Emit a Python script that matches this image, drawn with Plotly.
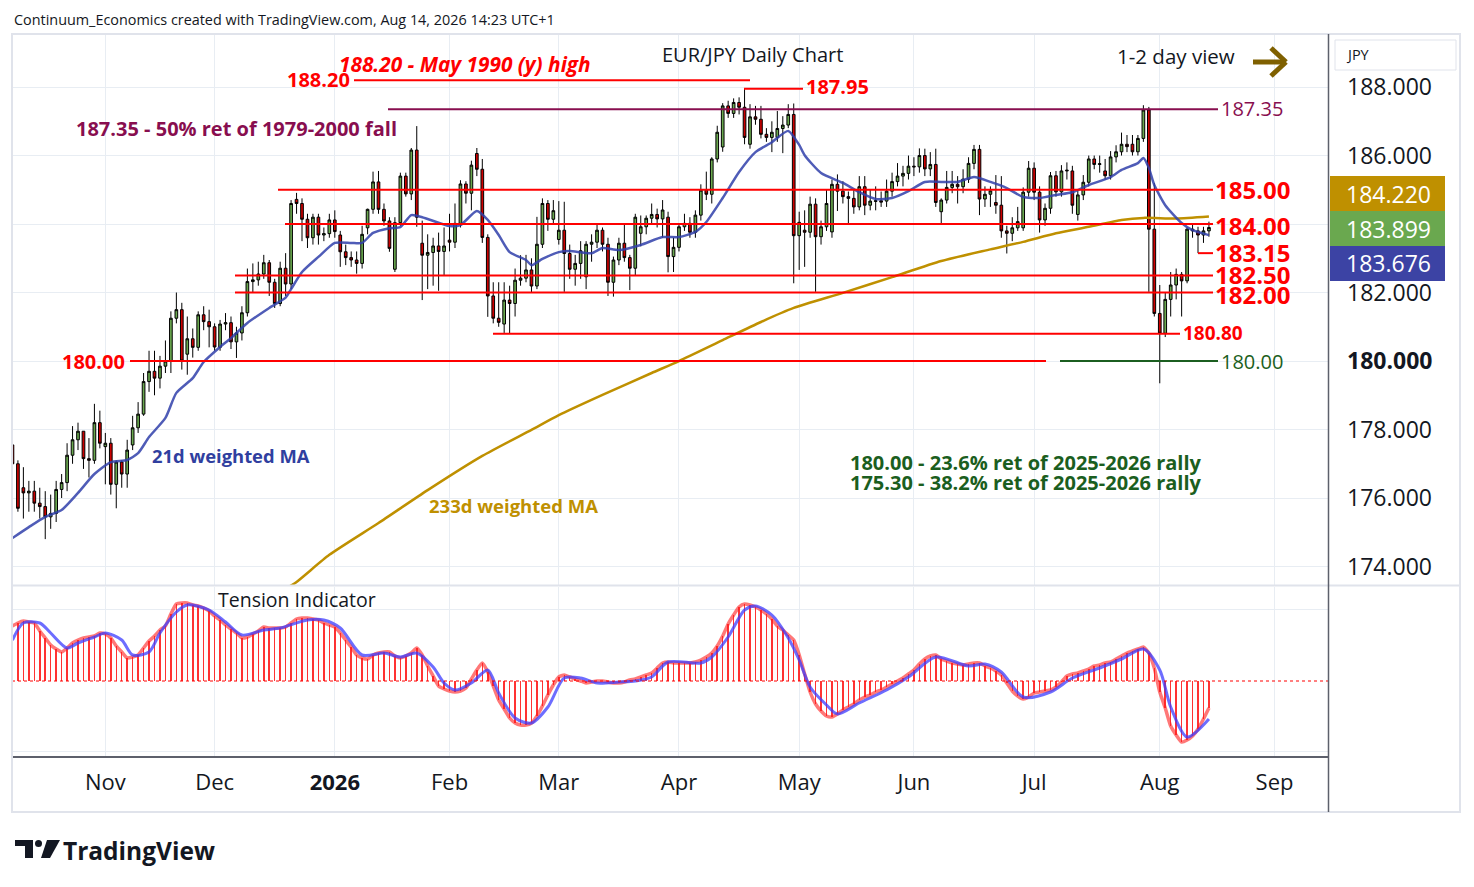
import pandas as pd
import plotly.graph_objects as go

# daily bars, weekdays only (no bar on Dec 25 / Jan 1)
dates = pd.bdate_range("2025-10-09", "2026-08-14", freq="C",
                       holidays=["2025-12-25", "2026-01-01"])

opens = [
    # Oct
    177.55, 177.00, 176.30, 176.15, 176.20, 175.85, 175.75, 175.45, 175.55, 176.25,
    176.45, 177.25, 177.70, 177.95, 177.15, 177.10, 178.20,
    # Nov
    177.50, 177.60, 176.40, 177.05, 176.70, 177.55, 178.05, 178.45, 179.40, 179.70,
    179.50, 179.85, 180.00, 181.25, 181.50, 180.20, 180.65, 180.40, 181.35, 181.15,
    # Dec
    181.00, 180.40, 181.08, 181.12, 180.56, 180.82, 181.41, 182.32, 182.37, 182.54,
    182.87, 182.30, 181.68, 182.71, 182.25, 184.72, 184.60, 184.14, 183.60, 184.20,
    183.68, 183.72,
    # Jan
    184.12, 183.68, 183.19, 183.02, 182.95, 182.85, 183.89, 184.43, 185.23, 184.43,
    184.09, 182.68, 184.04, 185.40, 184.88, 186.16, 183.44, 183.09, 183.17, 183.36,
    183.20,
    # Feb
    183.53, 183.47, 184.02, 185.17, 184.90, 186.06, 185.60, 183.61, 181.90, 181.25,
    181.08, 181.78, 181.68, 182.36, 182.42, 182.66, 182.19, 183.41, 184.60, 184.14,
    # Mar
    183.55, 183.82, 183.14, 182.68, 182.85, 182.46, 183.41, 183.47, 183.82, 183.41,
    182.30, 182.95, 183.44, 183.02, 182.71, 183.73, 183.92, 184.17, 184.28, 184.15,
    184.20, 183.05,
    # Apr
    183.32, 183.92, 184.02, 183.76, 184.26, 184.99, 184.87, 185.90, 186.25, 187.45,
    187.23, 187.55, 187.41, 186.33, 187.13, 187.06, 186.62, 186.53, 186.53, 186.79,
    186.89, 187.20,
    # May
    183.66, 183.82, 183.76, 184.58, 183.63, 183.92, 183.77, 185.16, 184.96, 184.80,
    184.75, 184.50, 185.09, 184.55, 184.66, 184.68, 184.67, 184.96, 185.24, 185.40,
    185.48,
    # Jun
    185.69, 185.67, 186.00, 185.61, 185.74, 184.36, 184.70, 185.07, 185.16, 185.09,
    185.31, 185.77, 186.18, 184.73, 184.87, 184.63, 184.55, 183.80, 183.73, 183.89,
    183.89, 184.93,
    # Jul
    185.63, 184.93, 184.12, 184.46, 185.41, 184.94, 185.55, 185.55, 184.28, 184.85,
    185.22, 185.90, 185.74, 185.55, 185.41, 185.96, 186.11, 186.33, 186.33, 186.11,
    186.50, 187.33, 183.85,
    # Aug
    181.39, 180.81, 181.80, 182.22, 182.53, 182.34, 183.85, 183.80, 183.68, 183.80,
]
highs = [
    177.70, 177.10, 176.90, 176.50, 176.50, 176.30, 176.20, 176.10, 176.50, 176.70,
    177.60, 178.10, 178.20, 177.95, 177.75, 178.75, 178.55,
    177.90, 177.75, 177.10, 177.10, 177.70, 178.40, 178.80, 179.65, 180.30, 180.30,
    180.15, 180.60, 181.45, 182.00, 181.70, 181.30, 180.95, 181.45, 181.60, 181.50,
    181.10, 181.20, 181.40, 181.30, 181.00, 181.60, 182.70, 182.85, 182.90, 183.10,
    182.95, 182.40, 182.90, 183.15, 184.70, 184.91, 184.75, 184.30, 184.30, 184.30,
    183.90, 184.30,
    184.40, 183.80, 183.40, 183.20, 183.20, 183.95, 184.45, 185.53, 185.55, 184.60,
    184.20, 184.20, 185.50, 185.50, 186.22, 186.86, 184.10, 183.70, 183.60, 183.75,
    183.90,
    184.30, 184.60, 185.28, 185.25, 185.85, 186.22, 185.90, 183.70, 182.30, 182.30,
    182.30, 182.20, 182.70, 183.09, 183.10, 183.00, 184.21, 184.75, 184.70, 184.70,
    184.67, 184.65, 183.40, 183.10, 183.50, 183.50, 183.70, 184.00, 183.90, 183.60,
    183.05, 183.60, 184.00, 183.10, 184.30, 184.25, 184.25, 184.60, 184.45, 184.70,
    184.36, 183.60,
    184.00, 184.30, 184.20, 184.40, 185.16, 185.53, 185.95, 186.87, 187.53, 187.60,
    187.67, 187.70, 187.95, 187.50, 187.45, 187.45, 186.80, 187.00, 187.30, 187.15,
    187.50, 187.52,
    184.36, 184.40, 184.80, 184.75, 184.10, 185.00, 185.30, 185.45, 185.25, 184.95,
    185.00, 185.40, 185.40, 185.00, 185.10, 184.95, 185.30, 185.50, 185.78, 185.70,
    186.00,
    185.95, 186.21, 186.20, 186.10, 186.20, 184.75, 185.55, 185.55, 185.40, 185.60,
    185.95, 186.31, 186.31, 185.10, 185.10, 185.43, 185.40, 183.95, 184.20, 184.50,
    185.07, 185.84,
    185.80, 185.10, 184.60, 185.52, 185.55, 185.72, 185.80, 185.70, 185.00, 185.43,
    186.00, 186.00, 186.00, 185.90, 186.13, 186.30, 186.67, 186.60, 186.60, 186.60,
    187.47, 187.42, 185.20,
    182.22, 182.00, 182.60, 182.70, 182.60, 183.90, 184.00, 183.92, 183.92, 184.07,
]
lows = [
    176.90, 175.60, 175.40, 175.60, 175.60, 175.40, 174.80, 175.10, 175.30, 176.00,
    176.20, 177.00, 177.40, 176.85, 176.60, 177.00, 177.45,
    176.40, 176.10, 175.70, 176.30, 176.30, 177.40, 177.90, 178.40, 179.10, 179.00,
    179.20, 179.65, 179.65, 181.10, 179.75, 179.60, 180.10, 180.30, 180.90, 180.40,
    180.30, 180.30, 180.90, 180.35, 180.09, 180.60, 181.30, 182.00, 182.20, 182.40,
    181.90, 181.55, 181.60, 181.90, 182.10, 184.30, 183.50, 183.30, 183.40, 183.40,
    183.50, 183.60,
    183.60, 182.75, 182.80, 182.75, 182.55, 182.70, 183.70, 184.30, 184.30, 183.95,
    183.19, 182.60, 183.95, 184.80, 184.70, 183.92, 181.78, 182.10, 182.20, 182.05,
    182.50,
    183.20, 183.30, 183.90, 184.60, 184.40, 185.40, 183.45, 181.29, 181.10, 181.00,
    180.82, 180.80, 181.30, 182.20, 182.30, 182.00, 182.10, 183.30, 183.80, 184.00,
    183.40, 182.02, 182.40, 182.20, 182.40, 182.10, 182.90, 183.30, 183.20, 181.90,
    181.88, 182.80, 182.90, 182.07, 182.50, 183.35, 183.70, 184.00, 183.90, 183.60,
    182.59, 182.60,
    183.20, 183.80, 183.60, 183.60, 184.10, 184.70, 184.60, 185.80, 186.11, 187.10,
    187.10, 187.20, 186.33, 186.20, 186.90, 186.50, 186.40, 186.10, 186.40, 186.07,
    186.80, 182.27,
    182.66, 182.75, 183.60, 182.02, 183.40, 183.80, 183.60, 184.38, 184.60, 184.02,
    184.30, 184.40, 184.26, 184.40, 184.40, 184.50, 184.50, 184.80, 185.10, 185.10,
    185.30,
    185.40, 185.50, 185.40, 185.40, 184.50, 183.99, 184.60, 184.90, 184.60, 184.90,
    185.20, 185.60, 184.26, 184.50, 184.50, 184.30, 183.60, 183.14, 183.50, 183.80,
    183.80, 184.80,
    184.70, 183.75, 183.95, 184.30, 184.80, 184.80, 185.30, 184.30, 184.10, 184.70,
    185.10, 185.60, 185.50, 185.30, 185.30, 185.80, 186.00, 186.10, 186.00, 186.00,
    186.40, 182.02, 181.30,
    179.35, 180.70, 181.30, 181.80, 181.30, 182.27, 183.60, 183.15, 183.45, 183.63,
]
closes = [
    177.00, 175.70, 176.15, 176.20, 175.85, 175.75, 175.45, 175.55, 176.25, 176.45,
    177.25, 177.70, 177.95, 177.15, 177.10, 178.20, 177.60,
    177.60, 176.40, 177.05, 176.70, 177.40, 178.05, 178.45, 179.40, 179.70, 179.50,
    179.85, 180.00, 181.25, 181.50, 180.00, 180.65, 180.40, 181.35, 181.15, 181.00,
    180.41, 181.08, 181.12, 180.56, 180.82, 181.41, 182.32, 182.37, 182.54, 182.87,
    182.30, 181.68, 182.71, 182.25, 184.60, 184.60, 184.14, 183.60, 184.20, 183.68,
    183.72, 184.12,
    183.78, 183.19, 183.02, 182.95, 182.85, 183.70, 184.43, 185.23, 184.43, 184.09,
    183.29, 184.04, 185.40, 184.88, 186.16, 184.20, 183.09, 183.17, 183.36, 183.20,
    183.36,
    183.47, 184.02, 185.17, 184.90, 185.72, 185.60, 183.61, 181.90, 181.25, 181.13,
    181.78, 181.68, 182.36, 182.42, 182.66, 182.19, 183.41, 184.60, 184.14, 184.39,
    183.82, 183.14, 182.68, 182.85, 183.22, 183.41, 183.47, 183.82, 183.41, 182.30,
    182.95, 183.44, 183.02, 182.71, 184.20, 183.92, 184.17, 184.28, 184.15, 184.41,
    183.05, 183.32,
    183.92, 184.02, 183.76, 184.26, 184.99, 184.87, 185.90, 186.68, 187.45, 187.23,
    187.55, 187.41, 186.53, 187.13, 187.06, 186.62, 186.53, 186.68, 186.79, 186.89,
    187.20, 183.66,
    184.05, 183.76, 184.58, 183.63, 183.92, 184.60, 185.16, 184.96, 184.80, 184.75,
    184.50, 185.09, 184.55, 184.67, 184.68, 184.64, 184.96, 185.24, 185.40, 185.48,
    185.69,
    185.67, 186.00, 185.61, 185.74, 184.63, 184.70, 185.07, 185.16, 185.09, 185.31,
    185.77, 186.18, 184.73, 184.87, 184.97, 184.55, 183.80, 183.73, 183.89, 184.07,
    184.93, 185.63,
    184.93, 184.12, 184.46, 185.41, 184.94, 185.55, 185.57, 184.55, 184.85, 185.22,
    185.90, 185.74, 185.76, 185.41, 185.96, 186.11, 186.33, 186.26, 186.11, 186.50,
    187.33, 183.85, 181.39,
    180.81, 181.80, 182.22, 182.53, 182.34, 183.85, 183.80, 183.68, 183.80, 183.899,
]

# 21d weighted MA
wma21_dates = [
    "2025-10-09", "2025-10-14", "2025-10-17", "2025-10-22", "2025-10-27", "2025-10-30",
    "2025-11-04", "2025-11-07", "2025-11-11", "2025-11-13", "2025-11-18", "2025-11-20",
    "2025-11-25", "2025-11-27", "2025-12-02", "2025-12-04", "2025-12-09", "2025-12-15",
    "2025-12-18", "2025-12-19", "2025-12-23", "2025-12-29", "2026-01-02", "2026-01-07",
    "2026-01-09", "2026-01-13", "2026-01-16", "2026-01-20", "2026-01-22", "2026-01-26",
    "2026-02-02", "2026-02-04", "2026-02-09", "2026-02-11", "2026-02-13", "2026-02-17",
    "2026-02-20", "2026-02-23", "2026-02-25", "2026-03-02", "2026-03-04", "2026-03-10",
    "2026-03-12", "2026-03-17", "2026-03-23", "2026-03-27", "2026-04-01", "2026-04-06",
    "2026-04-08", "2026-04-13", "2026-04-16", "2026-04-21", "2026-04-24", "2026-04-29",
    "2026-05-01", "2026-05-04", "2026-05-07", "2026-05-13", "2026-05-18", "2026-05-21",
    "2026-05-26", "2026-05-29", "2026-06-03", "2026-06-08", "2026-06-11", "2026-06-16",
    "2026-06-19", "2026-06-24", "2026-06-29", "2026-07-02", "2026-07-07", "2026-07-10",
    "2026-07-15", "2026-07-21", "2026-07-23", "2026-07-28", "2026-07-29", "2026-07-30",
    "2026-07-31", "2026-08-04", "2026-08-07", "2026-08-11", "2026-08-14",
]
wma21 = [
    174.83, 175.15, 175.45, 175.65, 176.15, 176.70,
    177.05, 177.11, 177.31, 177.78, 178.34, 179.07,
    179.50, 179.97, 180.41, 180.67, 181.11, 181.55,
    181.85, 182.10, 182.60, 183.04, 183.45, 183.45,
    183.45, 183.74, 183.88, 183.91, 184.26, 184.20,
    183.94, 183.97, 184.38, 184.12, 183.68, 183.18,
    182.95, 182.80, 182.98, 183.18, 183.21, 183.15,
    183.30, 183.24, 183.39, 183.62, 183.62, 183.77,
    184.06, 184.76, 185.52, 186.10, 186.39, 186.72,
    186.31, 186.01, 185.49, 185.20, 184.93, 184.73,
    184.76, 184.96, 185.23, 185.23, 185.23, 185.37,
    185.23, 185.05, 184.79, 184.76, 184.85, 184.93,
    185.14, 185.37, 185.58, 185.78, 185.93, 185.64,
    185.14, 184.55, 184.03, 183.82, 183.676,
]

# 233d weighted MA
wma233_dates = [
    "2025-12-18", "2025-12-22", "2025-12-31", "2026-01-14", "2026-01-27", "2026-02-10",
    "2026-02-23", "2026-03-02", "2026-03-12", "2026-03-25", "2026-04-01", "2026-04-13",
    "2026-04-22", "2026-04-30", "2026-05-13", "2026-05-26", "2026-06-08", "2026-06-19",
    "2026-06-29", "2026-07-07", "2026-07-15", "2026-07-23", "2026-07-29", "2026-08-06",
    "2026-08-14",
]
wma233 = [
    173.35, 173.55, 174.34, 175.27, 176.23, 177.23,
    177.99, 178.42, 179.01, 179.65, 180.00, 180.61,
    181.14, 181.55, 181.99, 182.45, 182.92, 183.26,
    183.48, 183.73, 183.92, 184.12, 184.18, 184.16,
    184.22,
]

# Tension indicator: fast line (one value per bar, also drawn as histogram)
tension_fast = [
    5.5, 5.8, 6.0, 5.9, 5.8, 5.0, 4.3, 3.6, 3.2, 2.9, 3.3, 3.8, 4.1, 4.3, 4.4, 4.5, 4.8,
    4.7, 4.3, 3.5, 2.9, 2.3, 2.4, 2.6, 3.3, 4.0, 4.5, 5.1, 5.5, 6.7, 7.7, 7.8, 7.8, 7.6,
    7.5, 7.3, 7.0,
    6.5, 6.1, 5.6, 5.2, 4.8, 4.3, 4.4, 4.7, 5.0, 5.4, 5.3, 5.3, 5.3, 5.4, 5.8, 6.2, 6.3,
    6.3, 6.2, 6.1, 5.8, 5.6,
    5.4, 4.8, 4.1, 3.4, 2.6, 2.3, 2.2, 2.6, 2.8, 2.9, 2.9, 2.5, 2.3, 2.5, 2.8, 3.3, 2.6,
    1.5, 0.5, -0.5, -0.8,
    -1.0, -1.1, -1.0, -0.7, 0.2, 1.1, 1.8, 0.9, -0.5, -1.9, -2.8, -3.7, -4.2, -4.4, -4.4,
    -4.2, -3.5, -2.5, -1.4, -0.4,
    0.4, 0.6, 0.4, 0.2, 0.0, -0.2, -0.1, 0.0, 0.0, -0.1, -0.2, -0.2, -0.1, 0.1, 0.2, 0.4,
    0.6, 0.8, 1.3, 1.8, 1.9, 1.8,
    1.8, 1.8, 1.8, 1.9, 2.1, 2.4, 2.8, 3.5, 4.5, 5.7, 6.6, 7.4, 7.7, 7.6, 7.4, 7.1, 6.7,
    6.2, 5.5, 5.1, 4.6, 4.1,
    2.6, 0.7, -1.1, -2.3, -3.0, -3.5, -3.6, -3.3, -2.9, -2.6, -2.3, -1.9, -1.6, -1.4, -1.1,
    -0.9, -0.6, -0.3, 0.0, 0.3, 0.7,
    1.1, 1.7, 2.2, 2.5, 2.6, 2.2, 2.0, 1.8, 1.7, 1.6, 1.7, 1.8, 1.8, 1.5, 1.3, 1.0, 0.6,
    -0.2, -1.0, -1.5, -1.8, -1.6,
    -1.2, -1.1, -1.0, -0.9, -0.6, -0.1, 0.5, 0.7, 0.8, 1.0, 1.2, 1.5, 1.6, 1.8, 1.9, 2.2,
    2.5, 2.8, 3.0, 3.2, 3.4, 2.8, 1.3,
    -1.1, -2.7, -4.5, -5.4, -6.1, -5.9, -5.5, -4.8, -3.8, -2.7,
]

# Tension indicator: slow line
tension_slow_dates = [
    "2025-10-09", "2025-10-13", "2025-10-16", "2025-10-20", "2025-10-23", "2025-10-27",
    "2025-10-30", "2025-11-03", "2025-11-06", "2025-11-10", "2025-11-13", "2025-11-17",
    "2025-11-20", "2025-11-24", "2025-11-28", "2025-12-03", "2025-12-08", "2025-12-12",
    "2025-12-17", "2025-12-24", "2025-12-30", "2026-01-05", "2026-01-09", "2026-01-15",
    "2026-01-20", "2026-01-23", "2026-01-28", "2026-01-30", "2026-02-03", "2026-02-06",
    "2026-02-11", "2026-02-13", "2026-02-18", "2026-02-23", "2026-02-26", "2026-03-03",
    "2026-03-06", "2026-03-11", "2026-03-17", "2026-03-20", "2026-03-25", "2026-03-30",
    "2026-04-07", "2026-04-09", "2026-04-14", "2026-04-17", "2026-04-21", "2026-04-24",
    "2026-04-29", "2026-05-01", "2026-05-05", "2026-05-08", "2026-05-12", "2026-05-18",
    "2026-05-25", "2026-05-29", "2026-06-05", "2026-06-15", "2026-06-18", "2026-06-23",
    "2026-06-29", "2026-07-06", "2026-07-10", "2026-07-17", "2026-07-23", "2026-07-29",
    "2026-08-03", "2026-08-05", "2026-08-10", "2026-08-14",
]
tension_slow = [
    4.1, 5.8, 5.8, 4.8, 3.3, 3.8,
    4.4, 4.8, 4.1, 2.6, 2.9, 4.8,
    6.9, 7.6, 7.1, 5.9, 4.6, 5.1,
    5.3, 6.1, 6.1, 5.3, 2.6, 2.8,
    2.4, 2.8, 1.4, -0.2, -0.9, -0.2,
    1.1, -1.2, -3.7, -4.2, -2.6, 0.3,
    0.3, -0.2, -0.1, 0.0, 0.4, 1.9,
    1.8, 2.4, 4.4, 7.1, 7.5, 6.6,
    4.3, 2.1, -0.6, -2.4, -3.3, -2.2,
    -0.9, 0.4, 2.4, 1.5, 1.7, 0.9,
    -1.6, -1.1, 0.3, 1.3, 2.2, 3.2,
    1.1, -2.6, -5.6, -3.8,
]

month_ticks = ["2025-11-03", "2025-12-01", "2026-01-02", "2026-02-02", "2026-03-02",
               "2026-04-01", "2026-05-01", "2026-06-01", "2026-07-01", "2026-08-03",
               "2026-09-01"]
month_labels = ["Nov", "Dec", "<b>2026</b>", "Feb", "Mar", "Apr", "May", "Jun", "Jul",
                "Aug", "Sep"]

price_ticks = [174, 176, 178, 180, 182, 184, 186, 188]
price_labels = ["174.000", "176.000", "178.000", "<b>180.000</b>", "182.000", "",
                "186.000", "188.000"]

# ---- layout in screen pixels; the page body adds an 8px offset ----
W, H = 1466, 879
OFF = 8
L, R, T, B = 12, 1328, 35, 756   # plot area as seen on screen


def px(x):
    return (x - L) / (R - L)


def py(y):
    return (B - y) / (B - T)


RED = "#FF0000"
MAROON = "#880E4F"
DKGREEN = "#1B5E20"
NAVY = "#303F9F"
GOLD = "#BF9000"
INK = "#131722"
GRID = "#E8EDF3"
FONT = "Open Sans"

fig = go.Figure()

fig.add_trace(go.Candlestick(
    x=dates, open=opens, high=highs, low=lows, close=closes,
    increasing=dict(fillcolor="#6AA84F", line=dict(color="#000000", width=1)),
    decreasing=dict(fillcolor="#CC0000", line=dict(color="#000000", width=1)),
    whiskerwidth=0, xaxis="x", yaxis="y", hoverinfo="x+y",
))
fig.add_trace(go.Scatter(
    x=wma233_dates, y=wma233, mode="lines", xaxis="x", yaxis="y",
    line=dict(color=GOLD, width=2.5, shape="spline", smoothing=0.6),
))
fig.add_trace(go.Scatter(
    x=wma21_dates, y=wma21, mode="lines", xaxis="x", yaxis="y",
    line=dict(color="rgba(48,63,170,0.85)", width=2.5, shape="spline", smoothing=0.6),
))

fig.add_trace(go.Bar(
    x=dates, y=tension_fast, xaxis="x2", yaxis="y2", width=0.28 * 86400000,
    marker=dict(color="rgba(255,0,0,0.8)", line=dict(width=0)),
))
fig.add_trace(go.Scatter(
    x=dates, y=tension_fast, mode="lines", xaxis="x2", yaxis="y2",
    line=dict(color="rgba(255,30,30,0.6)", width=3.5, shape="spline", smoothing=0.5),
))
fig.add_trace(go.Scatter(
    x=tension_slow_dates, y=tension_slow, mode="lines", xaxis="x2", yaxis="y2",
    line=dict(color="rgba(60,60,255,0.75)", width=3, shape="spline", smoothing=0.8),
))

shapes = []


def hline(level, x0, x1, color, width=2):
    shapes.append(dict(type="line", xref="paper", yref="y", x0=px(x0), x1=px(x1),
                       y0=level, y1=level, line=dict(color=color, width=width)))


def pline(x0, y0, x1, y1, color, width):
    shapes.append(dict(type="line", xref="paper", yref="paper", x0=px(x0), x1=px(x1),
                       y0=py(y0), y1=py(y1), line=dict(color=color, width=width)))


def prect(x0, y0, x1, y1, fill, line_color=None, lw=0):
    shapes.append(dict(type="rect", xref="paper", yref="paper", x0=px(x0), x1=px(x1),
                       y0=py(y1), y1=py(y0), fillcolor=fill,
                       line=dict(color=line_color or fill, width=lw)))


# level lines
hline(188.20, 354, 750, RED)
hline(187.95, 744, 803, RED)
hline(187.35, 388, 1218, MAROON)
hline(185.00, 278, 1213, RED)
hline(184.00, 285, 1213, RED)
hline(183.15, 1198, 1213, RED)
hline(182.50, 235, 1213, RED)
hline(182.00, 235, 1213, RED)
hline(180.80, 493, 1180, RED)
hline(180.00, 130, 1046, RED)
hline(180.00, 1060, 1218, DKGREEN)

# tension zero line
shapes.append(dict(type="line", xref="paper", yref="y2", x0=0, x1=1, y0=0, y1=0,
                   line=dict(color=RED, width=1.2, dash="dot")))

# frame and separators
prect(12, 34, 1460, 812, "rgba(0,0,0,0)", "#E0E3EB", 2)
pline(12, 585.5, 1460, 585.5, "#E0E3EB", 2)
pline(1328.5, 34, 1328.5, 812, "#5D606B", 1.5)

# price badges on the scale
prect(1330, 176, 1445, 211, GOLD)
prect(1330, 211, 1445, 246, "#6AA84F")
prect(1330, 246, 1445, 281, "#3C43A4")
# currency box
shapes.append(dict(type="rect", xref="paper", yref="paper", x0=px(1335), x1=px(1456),
                   y0=py(70), y1=py(40), fillcolor="white",
                   line=dict(color="#E0E3EB", width=1)))

# "1-2 day view" arrow
pline(1253, 62, 1283, 62, "#7F6000", 5)
pline(1271, 48, 1286, 62, "#7F6000", 5)
pline(1286, 62, 1271, 76, "#7F6000", 5)

# TradingView logo mark
prect(15, 840, 33, 846, INK)
prect(25, 840, 33, 858, INK)
shapes.append(dict(type="circle", xref="paper", yref="paper", x0=px(35), x1=px(42),
                   y0=py(847), y1=py(840), fillcolor=INK, line=dict(width=0)))
shapes.append(dict(type="path", xref="paper", yref="paper", fillcolor=INK,
                   line=dict(width=0),
                   path=f"M {px(47)},{py(840)} L {px(60)},{py(840)} "
                        f"L {px(50)},{py(858)} L {px(41)},{py(858)} Z"))

annotations = []


def text(s, x, y, size, color=INK, anchor="left"):
    annotations.append(dict(
        text=s, x=px(x), y=py(y), xref="paper", yref="paper",
        xanchor=anchor, yanchor="middle", showarrow=False,
        font=dict(family=FONT, size=size, color=color),
    ))


text("Continuum_Economics created with TradingView.com, Aug 14, 2026 14:23 UTC+1",
     12, 19, 14.4)
text("EUR/JPY Daily Chart", 752, 55, 20, anchor="center")
text("1-2 day view", 1115, 56, 20.5)
text("<b><i>188.20 - May 1990 (y) high</i></b>", 337, 64, 20.8, RED)
text("<b>188.20</b>", 352, 80, 20, RED, anchor="right")
text("<b>187.95</b>", 804, 87, 20, RED)
text("187.35", 1219, 109, 20, MAROON)
text("<b>187.35 - 50% ret of 1979-2000 fall</b>", 74, 128, 20, MAROON)
text("<b>185.00</b>", 1213, 189, 24, RED)
text("<b>184.00</b>", 1213, 225, 24, RED)
text("<b>183.15</b>", 1213, 253, 24, RED)
text("<b>182.50</b>", 1213, 274, 24, RED)
text("<b>182.00</b>", 1213, 295, 24, RED)
text("<b>180.80</b>", 1181, 333, 19, RED)
text("<b>180.00</b>", 127, 361, 20, RED, anchor="right")
text("180.00", 1219, 361, 20, DKGREEN)
text("<b>21d weighted MA</b>", 150, 455, 18.4, NAVY)
text("<b>233d weighted MA</b>", 427, 506, 18.5, GOLD)
text("<b>180.00 - 23.6% ret of 2025-2026 rally</b>", 848, 463, 20, DKGREEN)
text("<b>175.30 - 38.2% ret of 2025-2026 rally</b>", 848, 483, 20, DKGREEN)
text("Tension Indicator", 216, 599, 19.5)
text("JPY", 1344, 55, 14.5)
text("184.220", 1388, 193.5, 23, "white", anchor="center")
text("183.899", 1388, 228.5, 23, "white", anchor="center")
text("183.676", 1388, 263.5, 23, "white", anchor="center")
text("<b>TradingView</b>", 61, 850, 24.5)

breaks = [dict(bounds=["sat", "mon"]), dict(values=["2025-12-25", "2026-01-01"])]
xrange = ["2025-10-08 22:00", "2026-09-14 19:00"]

fig.update_layout(
    width=W, height=H,
    margin=dict(l=L - OFF, r=W - (R - OFF), t=T - OFF, b=H - (B - OFF)),
    paper_bgcolor="white", plot_bgcolor="white",
    showlegend=False, bargap=0,
    font=dict(family=FONT, color=INK),
    shapes=shapes, annotations=annotations,
    xaxis=dict(
        domain=[0, 1], anchor="y", type="date", range=xrange, rangebreaks=breaks,
        tickvals=month_ticks, showticklabels=False, showgrid=True, gridcolor=GRID,
        gridwidth=1, zeroline=False, rangeslider=dict(visible=False),
    ),
    xaxis2=dict(
        domain=[0, 1], anchor="y2", type="date", range=xrange, rangebreaks=breaks,
        matches="x", tickvals=month_ticks, ticktext=month_labels,
        tickfont=dict(family=FONT, size=22, color=INK), ticks="",
        ticklabelstandoff=6, showgrid=True, gridcolor=GRID, gridwidth=1,
        showline=True, linecolor="#5D606B", linewidth=1.5, zeroline=False,
    ),
    yaxis=dict(
        domain=[py(585), 1], anchor="x", side="right", range=[173.46, 189.52],
        tickvals=price_ticks, ticktext=price_labels, ticks="",
        tickfont=dict(family=FONT, size=23, color=INK), ticklabelstandoff=18,
        showgrid=True, gridcolor=GRID, gridwidth=1, zeroline=False,
    ),
    yaxis2=dict(
        domain=[0, py(587)], anchor="x2", side="right", range=[-7.5, 9.4],
        tickvals=[-7.0, 7.2], showticklabels=False, ticks="",
        showgrid=True, gridcolor=GRID, gridwidth=1, zeroline=False,
    ),
)

fig.write_html("out.html")
